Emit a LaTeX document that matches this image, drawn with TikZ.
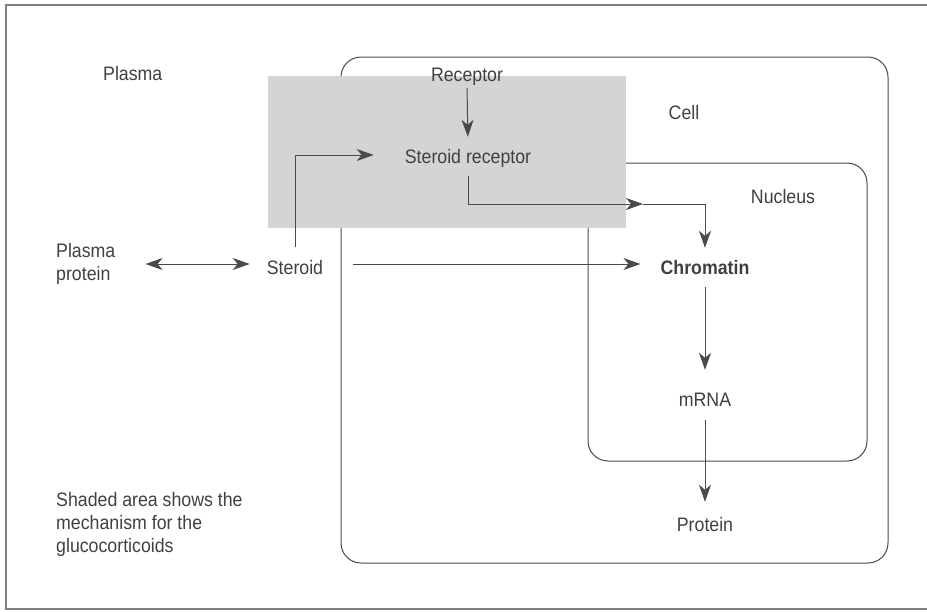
\documentclass[tikz,border=0pt]{standalone}
\usepackage{fontspec}
\setmainfont{Liberation Sans}[FakeStretch=0.91]
\usepackage{tikz}
\usetikzlibrary{arrows.meta,calc,positioning}
\definecolor{ink}{HTML}{404040}
\definecolor{wire}{HTML}{4A4A4A}
\definecolor{dotgray}{HTML}{D4D4D4}
\tikzset{
    -{Stealth[length=17pt,width=12pt,inset=5pt]},
    lbl/.style ={inner sep=0pt, text=ink, text height=14pt, text depth=4pt,
                 font=\fontsize{19.5}{23}\selectfont},
    box/.style = {draw=wire, line width=1pt, rounded corners=20pt, -},
    flow/.style = {draw=wire, line width=1pt}
}

\begin{document}
\begin{tikzpicture}[x=1pt,y=-1pt]
  \useasboundingbox (0,0) rectangle (927,611);
  % Draw the frame and compartments
  \draw[-, draw=black!50, line width=1.5pt] (927,5) -- (6,5) -- (6,609) -- (927,609);
  \draw[box] (341,57) rectangle (888,563);
  \draw[box] (588,163) rectangle (867,461);
  \fill[fill=dotgray] (268,76) rectangle (626,228);

  % Draw the nodes
  \node[lbl, anchor=base west] (plasma) at (103,80) {Plasma};
  \node[lbl, anchor=west, align=left, text height=, text depth=] (pprot) at (56,264) {Plasma\\protein};
  \node[lbl, anchor=base] (steroid) at (295,274) {Steroid};
  \node[lbl, anchor=base] (rec) at (467,81) {Receptor};
  \node[lbl, anchor=base] (sr) at (468,163) {Steroid receptor};
  \node[lbl, anchor=base] (cell) at (684,119) {Cell};
  \node[lbl, anchor=base] (nucleus) at (783,203) {Nucleus};
  \node[lbl, anchor=base, font=\fontsize{19.5}{23}\selectfont\bfseries] (chrom) at (705,274) {Chromatin};
  \node[lbl, anchor=base] (mrna) at (705,406) {mRNA};
  \node[lbl, anchor=base] (prot) at (705,531) {Protein};
  \node[lbl, anchor=north west, align=left, text height=, text depth=] (note) at (56,492)
    {Shaded area shows the\\mechanism for the\\glucocorticoids};
  \coordinate (mid) at (643,204);

  % Draw the arrows
  \draw[flow, {Stealth[length=17pt,width=12pt,inset=5pt]}-{Stealth[length=17pt,width=12pt,inset=5pt]},
        shorten <=30pt, shorten >=17pt] (pprot.east) -- (pprot.east -| steroid.west);
  \draw[flow, shorten <=13pt, shorten >=31pt] (steroid.north) |- ([yshift=3pt]sr.west);
  \draw[flow, shorten <=30pt, shorten >=20pt] ([yshift=5pt]steroid.east) -- ([yshift=5pt]chrom.west);
  \draw[flow, shorten <=3pt, shorten >=12pt] (rec.south) -- (sr.north);
  \draw[flow, shorten <=9pt] (sr.south) |- (mid);
  \draw[flow, shorten >=12pt] (mid) -| (chrom.north);
  \draw[flow, shorten <=9pt, shorten >=22pt] (chrom) -- (mrna);
  \draw[flow, shorten <=10pt, shorten >=15pt] (mrna) -- (prot);
\end{tikzpicture}
\end{document}
